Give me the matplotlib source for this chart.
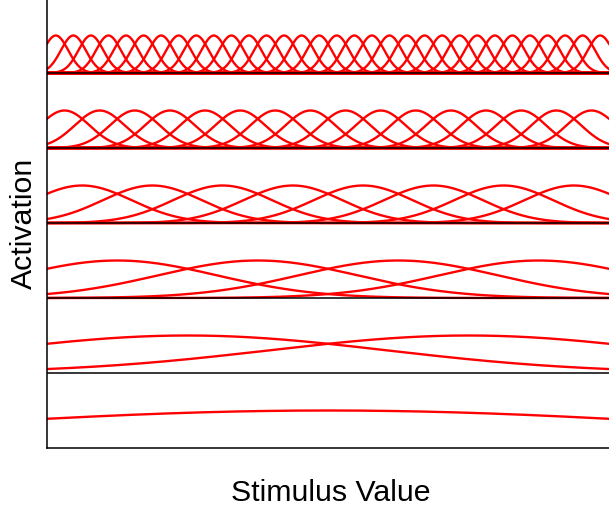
import numpy as np
import matplotlib
matplotlib.use("Agg")
from matplotlib import pyplot as plt

plt.rcParams["font.family"] = ["Liberation Sans", "DejaVu Sans"]

# tuning curve populations, one per row (bottom to top)
n_units = [1, 2, 4, 8, 16, 32]
row_offset = [0, 1, 2, 3, 4, 5]
peak_height = 0.5
# gaussian width relative to unit spacing
width_factor = 0.707

x = np.linspace(0, 1, 800)

fig = plt.figure(figsize=(6.09, 5.08), dpi=100)
ax = fig.add_axes([47 / 609, 60 / 508, 562 / 609, 450 / 508])

for n, off in zip(n_units, row_offset):
    centers = (np.arange(n) + 0.5) / n
    sigma = width_factor / n
    for c in centers:
        y = peak_height * np.exp(-((x - c) ** 2) / (2 * sigma ** 2))
        ax.plot(x, y + off, color="red", lw=1.7, zorder=2)
    if off > 0:
        ax.axhline(off, color="black", lw=1.1, zorder=3)

ax.set_xlim(0, 1)
ax.set_ylim(0, 450 / 75)
ax.set_xticks([])
ax.set_yticks([])
for s in ["top", "right"]:
    ax.spines[s].set_visible(False)
for s in ["left", "bottom"]:
    ax.spines[s].set_linewidth(1.1)

fig.text(331 / 609, 1 - 500.7 / 508, "Stimulus Value", ha="center", va="baseline", fontsize=21.8)
fig.text(23.5 / 609, 1 - 223 / 508, "Activation", ha="center", va="center", rotation=90, fontsize=21.8)

fig.savefig("out.png", dpi=100)
